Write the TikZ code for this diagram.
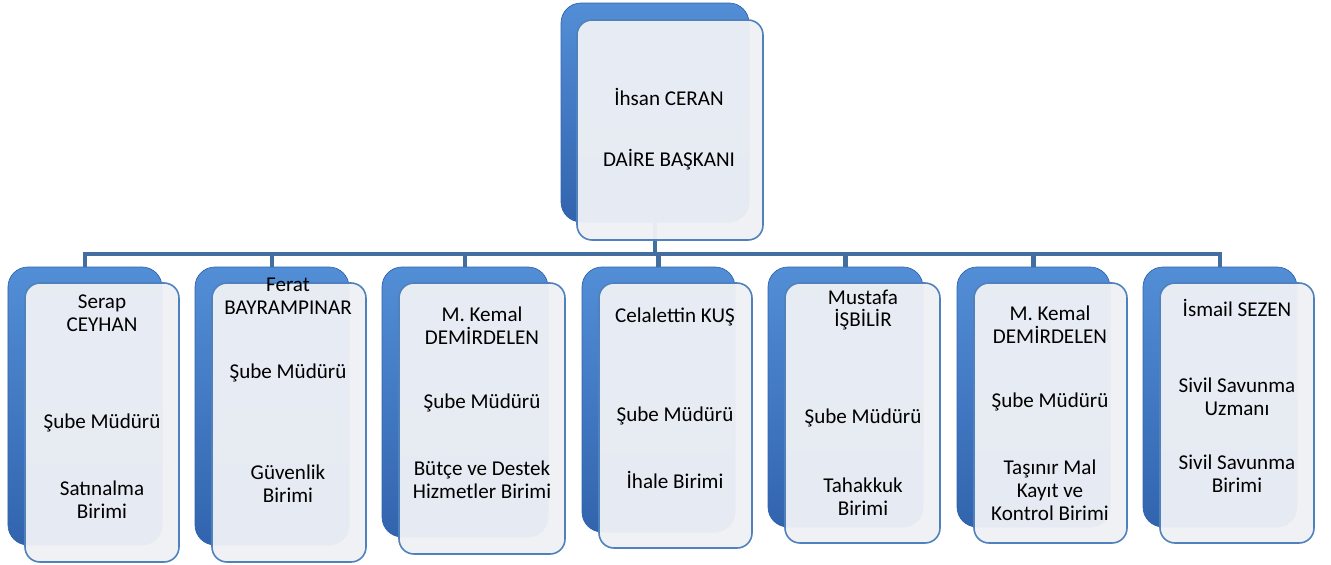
\documentclass[tikz,border=0pt]{standalone}
\usepackage{fontspec}
\setmainfont{Carlito}
\usepackage{tikz}

\definecolor{backtop}{RGB}{82,142,214}
\definecolor{backbot}{RGB}{50,100,174}
\definecolor{frontfill}{RGB}{238,240,245}
\definecolor{frontline}{RGB}{79,129,189}
\definecolor{linkblue}{RGB}{66,111,160}

\begin{document}
\begin{tikzpicture}
	\tikzstyle{back} = [rectangle, rounded corners=0.4cm, top color=backtop, bottom color=backbot, draw=backbot, inner sep=0pt]
	\tikzstyle{front} = [rectangle, rounded corners=0.3cm, fill=frontfill, fill opacity=0.96, draw=frontline, line width=0.9pt, inner sep=0pt]
	\tikzstyle{txt} = [align=center, font=\fontsize{12}{13}\selectfont, inner sep=0pt]
	\tikzstyle{link} = [draw=linkblue, line width=2.4pt]
	\useasboundingbox (0,0) rectangle (26.62,-11.28);
	% back boxes
	\node[back, minimum width=3.76cm, minimum height=4.38cm] (b0) at (13.10, -2.25) {};
	\node[back, minimum width=3.08cm, minimum height=5.56cm] (b1) at (1.70, -8.12) {};
	\node[back, minimum width=3.08cm, minimum height=5.56cm] (b2) at (5.44, -8.12) {};
	\node[back, minimum width=3.32cm, minimum height=5.40cm] (b3) at (9.30, -8.04) {};
	\node[back, minimum width=3.06cm, minimum height=5.30cm] (b4) at (13.17, -7.99) {};
	\node[back, minimum width=3.10cm, minimum height=5.20cm] (b5) at (16.91, -7.94) {};
	\node[back, minimum width=3.06cm, minimum height=5.20cm] (b6) at (20.67, -7.94) {};
	\node[back, minimum width=3.08cm, minimum height=5.20cm] (b7) at (24.40, -7.94) {};
	% connectors
	\coordinate (bus) at (0, -5.08);
	\foreach \i in {1,...,7}
		\draw[link] (b0.south) -- (b0.south |- bus) -| (b\i.north);
	% front boxes
	\node[front, minimum width=3.72cm, minimum height=4.40cm] (f0) at (13.40, -2.60) {};
	\node[front, minimum width=3.08cm, minimum height=5.58cm] (f1) at (2.04, -8.45) {};
	\node[front, minimum width=3.08cm, minimum height=5.58cm] (f2) at (5.78, -8.45) {};
	\node[front, minimum width=3.32cm, minimum height=5.42cm] (f3) at (9.64, -8.37) {};
	\node[front, minimum width=3.06cm, minimum height=5.30cm] (f4) at (13.51, -8.31) {};
	\node[front, minimum width=3.10cm, minimum height=5.20cm] (f5) at (17.25, -8.26) {};
	\node[front, minimum width=3.06cm, minimum height=5.20cm] (f6) at (21.01, -8.26) {};
	\node[front, minimum width=3.08cm, minimum height=5.20cm] (f7) at (24.74, -8.26) {};
	% texts
	\node[txt] (n0) at (13.38, -1.94) {İhsan CERAN};
	\node[txt] (r0) at (13.38, -3.20) {DAİRE BAŞKANI};

	\node[txt] (n1) at (2.04, -6.27) {Serap\\CEYHAN};
	\node[txt] (r1) at (2.04, -8.46) {Şube Müdürü};
	\node[txt] (u1) at (2.04, -10.00) {Satınalma\\Birimi};

	\node[txt] (n2) at (5.76, -5.93) {Ferat\\BAYRAMPINAR};
	\node[txt] (r2) at (5.76, -7.46) {Şube Müdürü};
	\node[txt] (u2) at (5.76, -9.67) {Güvenlik\\Birimi};

	\node[txt] (n3) at (9.64, -6.52) {M. Kemal\\DEMİRDELEN};
	\node[txt] (r3) at (9.64, -8.06) {Şube Müdürü};
	\node[txt] (u3) at (9.64, -9.60) {Bütçe ve Destek\\Hizmetler Birimi};

	\node[txt] (n4) at (13.50, -6.34) {Celalettin KUŞ};
	\node[txt] (r4) at (13.50, -8.32) {Şube Müdürü};
	\node[txt] (u4) at (13.50, -9.60) {İhale Birimi};

	\node[txt] (n5) at (17.26, -6.20) {Mustafa\\İŞBİLİR};
	\node[txt] (r5) at (17.26, -8.36) {Şube Müdürü};
	\node[txt] (u5) at (17.26, -9.93) {Tahakkuk\\Birimi};

	\node[txt] (n6) at (21.00, -6.49) {M. Kemal\\DEMİRDELEN};
	\node[txt] (r6) at (21.00, -8.04) {Şube Müdürü};
	\node[txt] (u6) at (21.00, -9.80) {Taşınır Mal\\Kayıt ve\\Kontrol Birimi};

	\node[txt] (n7) at (24.74, -6.16) {İsmail SEZEN};
	\node[txt] (r7) at (24.74, -7.93) {Sivil Savunma\\Uzmanı};
	\node[txt] (u7) at (24.74, -9.48) {Sivil Savunma\\Birimi};
\end{tikzpicture}
\end{document}
